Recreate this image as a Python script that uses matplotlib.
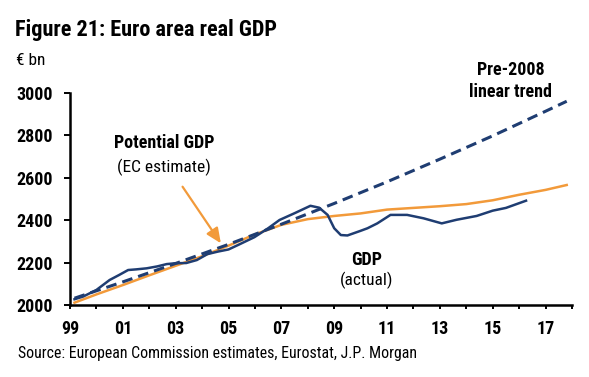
import matplotlib
matplotlib.use("Agg")
import matplotlib.pyplot as plt

plt.rcParams["font.family"] = ["Roboto Condensed", "DejaVu Sans"]

# ---- data ----
gdp_years = [1999.17, 1999.5, 2000.0, 2000.5, 2000.85, 2001.2, 2001.5, 2001.9, 2002.3,
             2002.66, 2003.0, 2003.4, 2003.8, 2004.2, 2004.6, 2005.0, 2005.36, 2005.98,
             2006.5, 2006.93, 2007.5, 2008.1, 2008.43, 2008.75, 2009.0, 2009.25, 2009.5,
             2010.0, 2010.26, 2010.63, 2011.13, 2011.76, 2012.38, 2013.07, 2013.63,
             2014.39, 2015.0, 2015.5, 2016.26]
gdp_values = [2027, 2040, 2071, 2118, 2141, 2165, 2168, 2173, 2182,
              2193, 2197, 2198, 2212, 2240, 2252, 2262, 2283, 2320,
              2362, 2401, 2433, 2468, 2459, 2425, 2362, 2330, 2328,
              2350, 2362, 2385, 2425, 2425, 2409, 2385, 2402,
              2420, 2445, 2458, 2492]

pot_years = [1999.17, 2000, 2001, 2002, 2003, 2004, 2005, 2006, 2007, 2008, 2009,
             2010, 2011, 2012, 2013, 2014, 2015, 2016, 2017, 2017.8]
pot_values = [2011, 2050, 2094, 2140, 2185, 2230, 2280, 2333, 2378, 2405, 2420,
              2432, 2450, 2458, 2466, 2476, 2494, 2520, 2543, 2566]

trend_years = [1999.17, 2001, 2003, 2005, 2007, 2009, 2011, 2013, 2015, 2017, 2017.8]
trend_values = [2032, 2109, 2196, 2286, 2381, 2479, 2581, 2688, 2798, 2914, 2961]

year_ticks = list(range(1999, 2019))
label_years = list(range(1999, 2018, 2))
year_labels = ["99", "01", "03", "05", "07", "09", "11", "13", "15", "17"]
y_ticks = [2000, 2200, 2400, 2600, 2800, 3000]

NAVY = "#1f3d72"
ORANGE = "#f29a3a"

fig = plt.figure(figsize=(5.89, 3.77), dpi=100)
ax = fig.add_axes([70 / 589, 1 - 305 / 377, (572 - 70) / 589, (305 - 93) / 377])

ax.plot(pot_years, pot_values, color=ORANGE, lw=1.8, zorder=2)
ax.plot(trend_years, trend_values, color=NAVY, lw=2.2, ls=(0, (3.5, 2.0)), zorder=3)
ax.plot(gdp_years, gdp_values, color=NAVY, lw=1.8, zorder=4)

ax.set_xlim(1999, 2018)
ax.set_ylim(2000, 3000)
ax.set_yticks(y_ticks)
ax.set_xticks(year_ticks)
ax.set_xticklabels([year_labels[label_years.index(y)] if y in label_years else "" for y in year_ticks])

for s in ["top", "right"]:
    ax.spines[s].set_visible(False)
for s in ["left", "bottom"]:
    ax.spines[s].set_linewidth(1.8)
    ax.spines[s].set_color("black")

ax.tick_params(axis="y", length=4.5, width=1.4, pad=8, labelsize=13)
ax.tick_params(axis="x", length=3, width=1.4, pad=8, labelsize=13)
for lab in ax.get_xticklabels() + ax.get_yticklabels():
    lab.set_fontweight("bold")

# annotations
ax.text(2015.67, 3108, "Pre-2008", ha="center", va="center", fontsize=13,
        fontweight="bold", clip_on=False)
ax.text(2015.67, 3005, "linear trend", ha="center", va="center", fontsize=13,
        fontweight="bold", clip_on=False)
ax.text(2002.56, 2762, "Potential GDP", ha="center", va="center", fontsize=13,
        fontweight="bold")
ax.text(2002.56, 2650, "(EC estimate)", ha="center", va="center", fontsize=12.5)
ax.annotate("", xy=(2004.71, 2291), xytext=(2003.26, 2558),
            arrowprops=dict(arrowstyle="-|>,head_length=0.9,head_width=0.4",
                            color=ORANGE, lw=1.6, shrinkA=0, shrinkB=0))
ax.text(2010.21, 2212, "GDP", ha="center", va="center", fontsize=13, fontweight="bold")
ax.text(2010.21, 2118, "(actual)", ha="center", va="center", fontsize=12.5)

fig.text(15 / 589, 1 - 36 / 377, "Figure 21: Euro area real GDP", fontsize=16,
         fontweight="bold", va="baseline", ha="left")
fig.text(16 / 589, 1 - 65 / 377, "€ bn", fontsize=12.5, va="baseline", ha="left")
fig.text(18 / 589, 1 - 358 / 377, "Source: European Commission estimates, Eurostat, J.P. Morgan",
         fontsize=11.4, va="baseline", ha="left")

fig.savefig("out.png", dpi=100)
